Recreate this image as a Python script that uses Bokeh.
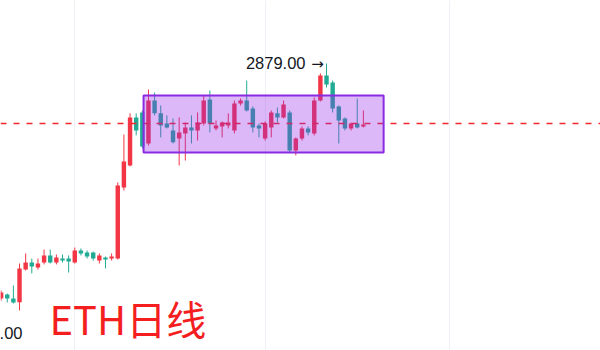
from bokeh.plotting import figure
from bokeh.models import Range1d, FixedTicker, Label
from bokeh.core.properties import value
from bokeh.embed import file_html
from bokeh.resources import INLINE

# ETH/USDT daily candles, 19 Apr - 17 Jun 2025 (index 0 = 19 Apr)
opens = [1598, 1620, 1598, 1578, 1756, 1795, 1767, 1795, 1833, 1795,
         1816, 1816, 1795, 1860, 1849, 1849, 1805, 1822, 1816, 1816,
         2203, 2323, 2585, 2612, 2443, 2677, 2607, 2552, 2514, 2470,
         2498, 2530, 2514, 2552, 2683, 2525, 2536, 2541, 2514, 2661,
         2677, 2634, 2541, 2470, 2530, 2607, 2585, 2612, 2405, 2470,
         2525, 2498, 2677, 2814, 2775, 2645, 2579, 2525, 2552, 2536]
highs = [1642, 1625, 1669, 1789, 1844, 1816, 1816, 1865, 1865, 1838,
         1838, 1833, 1876, 1871, 1860, 1854, 1844, 1827, 1844, 2231,
         2492, 2607, 2607, 2623, 2737, 2721, 2650, 2596, 2579, 2585,
         2557, 2596, 2612, 2705, 2732, 2568, 2563, 2607, 2677, 2688,
         2786, 2645, 2552, 2563, 2623, 2639, 2677, 2623, 2476, 2536,
         2536, 2694, 2825, 2879, 2786, 2650, 2585, 2557, 2688, 2623]
lows = [1587, 1577, 1571, 1533, 1751, 1735, 1756, 1784, 1789, 1784,
        1795, 1740, 1789, 1833, 1816, 1805, 1789, 1762, 1805, 1811,
        2187, 2318, 2487, 2416, 2432, 2596, 2476, 2525, 2443, 2323,
        2350, 2443, 2459, 2541, 2503, 2514, 2476, 2525, 2498, 2650,
        2617, 2503, 2476, 2459, 2476, 2557, 2579, 2394, 2378, 2459,
        2487, 2487, 2672, 2748, 2612, 2443, 2514, 2514, 2525, 2530]
closes = [1631, 1598, 1577, 1762, 1795, 1773, 1789, 1833, 1795, 1822,
          1805, 1800, 1860, 1844, 1827, 1816, 1833, 1811, 1827, 2214,
          2345, 2585, 2514, 2427, 2677, 2607, 2541, 2530, 2449, 2503,
          2530, 2514, 2557, 2677, 2552, 2541, 2557, 2557, 2661, 2677,
          2623, 2530, 2525, 2552, 2612, 2585, 2656, 2405, 2470, 2525,
          2503, 2677, 2814, 2765, 2634, 2568, 2525, 2552, 2530, 2547]

# month boundaries (1 May, 1 Jun, 1 Jul) in candle index units
month_starts = [12, 43, 73]

# consolidation range and reference level
range_start, range_end = 23.2, 62.3
range_low, range_high = 2394, 2705
ref_level = 2552
april_low = 1385.00

UP = "#f23645"
DOWN = "#22ab94"

X_START, X_END = -0.098, 97.62

idx = list(range(len(opens)))
colors = [UP if c >= o else DOWN for o, c in zip(opens, closes)]
body_top = [max(o, c) for o, c in zip(opens, closes)]
body_bot = [min(o, c) for o, c in zip(opens, closes)]

p = figure(width=600, height=350,
           x_range=Range1d(X_START, X_END), y_range=Range1d(1315, 3222),
           output_backend="svg", toolbar_location=None, min_border=0,
           background_fill_color="white", border_fill_color="white")
p.xaxis.visible = False
p.yaxis.visible = False
p.outline_line_color = None
p.ygrid.visible = False
p.xgrid.ticker = FixedTicker(ticks=month_starts)
p.xgrid.grid_line_color = "#eef0f5"
p.xgrid.grid_line_width = 1

# candles
p.segment(x0=idx, y0=lows, x1=idx, y1=highs, line_color=colors, line_width=1)
p.vbar(x=idx, width=0.72, top=body_top, bottom=body_bot,
       fill_color=colors, line_color=None)

# reference level across the whole view
p.line(x=[X_START, X_END], y=[ref_level, ref_level], line_color="#f0282d",
       line_dash="6 7", line_width=1.5)

# range box on top of the candles
p.quad(left=[range_start], right=[range_end], top=[range_high], bottom=[range_low],
       fill_color="#9628eb", fill_alpha=0.33, line_color="#8a2be2", line_width=2)

# peak marker
peak = max(idx, key=lambda i: highs[i])
p.text(x=[peak], y=[highs[peak]], text=[f"{highs[peak]:.2f}"],
       x_offset=-21, y_offset=0, text_align="right", text_baseline="middle",
       text_font=value("Liberation Sans"), text_font_size="16.5px",
       text_color="#131722")
p.text(x=[peak], y=[highs[peak]], text=["→"],
       x_offset=-9, y_offset=1, text_align="center", text_baseline="middle",
       text_font=value("DejaVu Sans"), text_font_size="15px",
       text_color="#131722")

# low marker at the left edge (mostly outside the view)
p.add_layout(Label(x=22, y=18, x_units="screen", y_units="screen",
                   text=f"{april_low:.2f}", text_align="right",
                   text_baseline="middle", text_font="Liberation Sans",
                   text_font_size="16.5px", text_color="#131722"))

# title
p.add_layout(Label(x=49, y=33, x_units="screen", y_units="screen",
                   text="ETH日线", text_align="left", text_baseline="middle",
                   text_font="Noto Sans CJK SC", text_font_size="40px",
                   text_color="#f41e1e"))

open("out.html", "w").write(file_html(p, INLINE))
